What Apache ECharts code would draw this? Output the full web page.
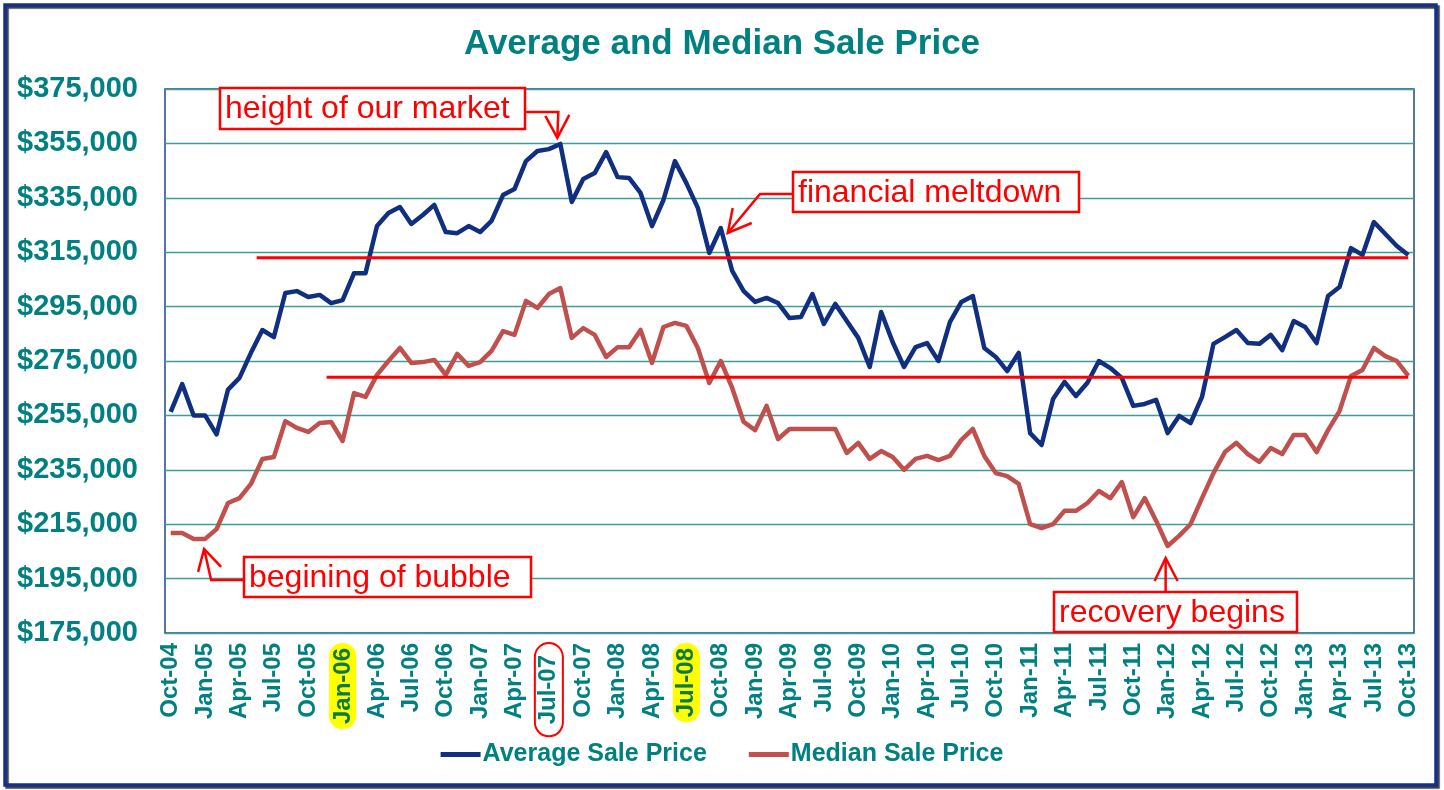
<!DOCTYPE html>
<html>
<head>
<meta charset="utf-8">
<script src="https://cdn.jsdelivr.net/npm/echarts@6/dist/echarts.min.js"></script>
<style>
html,body{margin:0;padding:0;background:#ffffff;}
#c{width:1444px;height:790px;}
</style>
</head>
<body>
<div id="c"></div>
<script>
// ---------- data ----------
const monthNames = ['Jan','Feb','Mar','Apr','May','Jun','Jul','Aug','Sep','Oct','Nov','Dec'];
const startYear = 2004, startMonthIdx = 9; // Oct-04
const monthCount = 109;                     // Oct-04 .. Oct-13
const categories = [];
for (let k = 0; k < monthCount; k++) {
  const m = (startMonthIdx + k) % 12;
  const y = startYear + Math.floor((startMonthIdx + k) / 12);
  categories.push(monthNames[m] + '-' + String(y % 100).padStart(2, '0'));
}

const averagePrice = [
  256300,266500,255000,255000,248000,264500,268800,278000,286400,283800,
  300000,300700,298500,299300,296300,297400,307300,307300,324600,329400,
  331600,325400,328700,332400,322400,322000,324600,322400,326500,336000,
  338200,348500,352200,352900,354800,333500,341900,344100,351800,342600,
  342300,336800,324600,334200,348500,340400,331300,314700,323900,308100,
  300700,296700,298200,296300,290800,291200,299600,288600,296000,289700,
  283500,272800,293000,282000,272800,280100,281600,275000,289300,296700,
  298900,279800,276500,271300,278000,248500,244100,261000,267300,262100,
  267000,275000,272400,268800,258500,259200,260700,248500,254800,252200,
  261800,281300,283800,286400,281600,281300,284600,279000,289700,287500,
  281600,298900,302200,316500,314000,326100,321700,317300,314000
];

const medianPrice = [
  211800,211800,209600,209600,213200,222800,224600,229800,239000,239700,
  252900,250400,248900,252200,252600,245600,263200,261800,269900,275000,
  279800,274300,274600,275400,269900,277600,273200,274600,278700,286000,
  284600,297100,294500,299600,301800,283500,287100,284600,276500,280100,
  280100,286400,274300,287500,289000,287900,279800,266900,275000,265100,
  252600,249600,258500,246300,250000,250000,250000,250000,250000,241200,
  244900,239000,241900,239700,235000,239000,240100,238600,240100,246000,
  250000,240100,233800,232700,229800,215000,213600,215000,219900,219900,
  222800,227200,224600,230500,217600,224600,216200,207000,210700,215000,
  224600,233800,241500,244900,240800,237900,243000,240800,247800,247800,
  241500,249600,256600,269500,271700,279800,276800,275000,269500
];

const yMin = 175000, yMax = 375000, yStep = 20000;

// red reference lines: [startIndex, level] -> [endIndex, level]
const upperRef = [[7.5, 313000], [108, 313000]];
const lowerRef = [[13.6, 269000], [108, 269000]];

const highlightYellow = ['Jan-06', 'Jul-08'];
const highlightRing = ['Jul-07'];

// annotations: label, anchored series, anchored index
const annotations = [
  { text: 'height of our market', series: 'avg', idx: 34 },
  { text: 'financial meltdown',   series: 'avg', idx: 48 },
  { text: 'begining of bubble',   series: 'med', idx: 3 },
  { text: 'recovery begins',      series: 'med', idx: 87 }
];

// ---------- chart ----------
const TEAL = '#008080';
const NAVY = '#102f80';
const BRICK = '#C0504D';
const RED = '#FF0000';
const FONT = 'Liberation Sans, Arial, Helvetica, sans-serif';

const chart = echarts.init(document.getElementById('c'), null, { renderer: 'canvas' });

function money(v) {
  return '$' + String(v).replace(/\B(?=(\d{3})+(?!\d))/g, ',');
}

const option = {
  backgroundColor: '#ffffff',
  animation: false,
  textStyle: { fontFamily: FONT },
  title: {
    text: 'Average and Median Sale Price',
    left: 'center',
    top: 22,
    textStyle: { color: TEAL, fontSize: 35, fontWeight: 'bold', fontFamily: FONT }
  },
  legend: {
    data: ['Average Sale Price', 'Median Sale Price'],
    bottom: 18,
    left: 'center',
    icon: 'rect',
    itemWidth: 40,
    itemHeight: 5,
    itemGap: 42,
    textStyle: { color: TEAL, fontSize: 25, fontWeight: 'bold', fontFamily: FONT, padding: [0, 0, 0, -3] }
  },
  grid: {
    left: 165, right: 30, top: 89, bottom: 157,
    show: true,
    borderColor: '#1F497D',
    borderWidth: 1.5,
    backgroundColor: 'transparent'
  },
  xAxis: [
    {
      type: 'category',
      data: categories,
      boundaryGap: true,
      axisLine: { show: false },
      axisTick: { show: false },
      splitLine: { show: false },
      axisLabel: {
        interval: 2,
        rotate: 90,
        margin: 10,
        color: TEAL,
        fontSize: 24,
        fontWeight: 'bold',
        fontFamily: FONT,
        formatter: function (v) {
          if (highlightYellow.indexOf(v) >= 0) return '{hl|' + v + '}';
          if (highlightRing.indexOf(v) >= 0) return '{ring|' + v + '}';
          return '{n|' + v + '}';
        },
        rich: {
          n: { color: TEAL, fontSize: 24, fontWeight: 'bold', fontFamily: FONT },
          hl: { color: '#0b7a45', fontSize: 24, fontWeight: 'bold', fontFamily: FONT,
                backgroundColor: '#FFFF00', borderRadius: 13, padding: [2, 5, 1, 5] },
          ring: { color: TEAL, fontSize: 24, fontWeight: 'bold', fontFamily: FONT,
                  borderColor: RED, borderWidth: 2, borderRadius: 16, padding: [2, 12, 2, 12] }
        }
      }
    },
    {
      type: 'value',
      min: -0.5,
      max: monthCount - 0.5,
      show: false
    }
  ],
  yAxis: {
    type: 'value',
    min: yMin,
    max: yMax,
    interval: yStep,
    axisLine: { show: false },
    axisTick: { show: false },
    axisLabel: {
      margin: 27,
      color: TEAL,
      fontSize: 29,
      fontWeight: 'bold',
      fontFamily: FONT,
      formatter: money
    },
    splitLine: { lineStyle: { color: '#3f9c9c', width: 1.3 } }
  },
  series: [
    {
      name: 'Average Sale Price',
      type: 'line',
      data: averagePrice,
      symbol: 'none',
      color: NAVY,
      lineStyle: { color: NAVY, width: 4.5, join: 'round' },
      z: 3
    },
    {
      name: 'Median Sale Price',
      type: 'line',
      data: medianPrice,
      symbol: 'none',
      color: BRICK,
      lineStyle: { color: BRICK, width: 4.5, join: 'round' },
      z: 3
    },
    {
      name: 'upperRef',
      type: 'line',
      xAxisIndex: 1,
      data: upperRef,
      symbol: 'none',
      lineStyle: { color: RED, width: 3 },
      z: 4,
      silent: true
    },
    {
      name: 'lowerRef',
      type: 'line',
      xAxisIndex: 1,
      data: lowerRef,
      symbol: 'none',
      lineStyle: { color: RED, width: 3 },
      z: 4,
      silent: true
    }
  ]
};

chart.setOption(option);

// ---------- annotations (boxes + arrows) ----------
function px(seriesKey, idx) {
  const arr = seriesKey === 'avg' ? averagePrice : medianPrice;
  return chart.convertToPixel({ xAxisIndex: 0, yAxisIndex: 0 }, [idx, arr[idx]]);
}

const boxes = [
  { x: 220, y: 88,  w: 305, h: 41 },
  { x: 793, y: 172, w: 286, h: 40 },
  { x: 244, y: 557, w: 287, h: 40 },
  { x: 1054, y: 592, w: 243, h: 40 }
];

const lineStyle = { stroke: RED, lineWidth: 2.5, fill: null };
const graphics = [];

// outer frame
graphics.push({
  type: 'rect', z: 0,
  shape: { x: 5, y: 5, width: 1431, height: 780 },
  style: { fill: null, stroke: '#152f8c', lineWidth: 3.5,
           shadowColor: 'rgba(0,0,0,0.75)', shadowOffsetX: 2, shadowOffsetY: 2, shadowBlur: 1 }
});

// tips and connectors
const p0 = px('avg', 34);  const t0 = [p0[0] - 3, p0[1] - 6];
const p1 = px('avg', 48);  const t1 = [p1[0] + 7, p1[1] + 5];
const p2 = px('med', 3);   const t2 = [p2[0] - 1, p2[1] + 10];
const p3 = px('med', 87);  const t3 = [p3[0] - 2, p3[1] + 12];

const connectors = [
  [[boxes[0].x + boxes[0].w, 112], [t0[0] + 1, 112], t0],
  [[boxes[1].x, 194], [760, 194], t1],
  [t2, [t2[0] + 7, 580], [boxes[2].x, 580]],
  [t3, [t3[0], boxes[3].y]]
];
const heads = [
  [[t0[0] - 12, t0[1] - 22], t0, [t0[0] + 12, t0[1] - 23]],
  [[t1[0] + 5, t1[1] - 25], t1, [t1[0] + 24, t1[1] - 10]],
  [[t2[0] - 6, t2[1] + 23], t2, [t2[0] + 17, t2[1] + 18]],
  [[t3[0] - 11, t3[1] + 23], t3, [t3[0] + 12, t3[1] + 23]]
];

connectors.forEach(function (pts) {
  graphics.push({ type: 'polyline', z: 20, shape: { points: pts }, style: lineStyle });
});
heads.forEach(function (pts) {
  graphics.push({ type: 'polyline', z: 20, shape: { points: pts }, style: lineStyle });
});

annotations.forEach(function (a, i) {
  const b = boxes[i];
  graphics.push({
    type: 'rect', z: 21,
    shape: { x: b.x, y: b.y, width: b.w, height: b.h },
    style: { fill: '#ffffff', stroke: RED, lineWidth: 2.5 }
  });
  graphics.push({
    type: 'text', z: 22,
    x: b.x + 5, y: b.y + b.h / 2 + 1,
    style: { text: a.text, fill: RED, font: '32px ' + FONT, verticalAlign: 'middle', align: 'left' }
  });
});

chart.setOption({ graphic: graphics });
</script>
</body>
</html>
